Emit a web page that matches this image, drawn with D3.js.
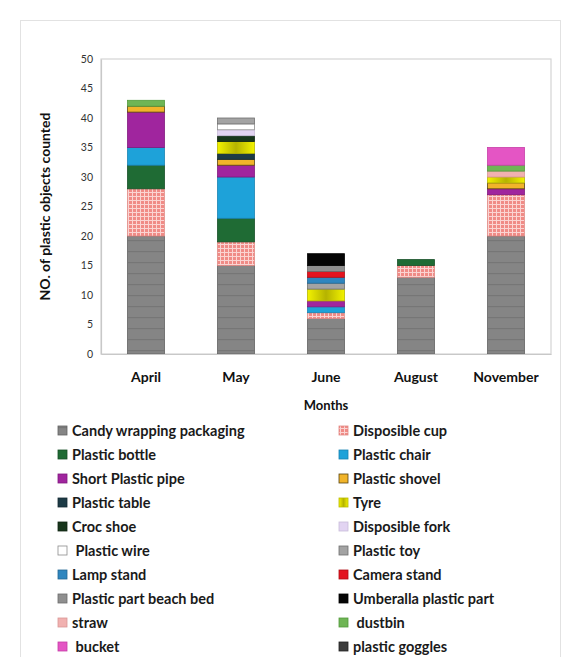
<!DOCTYPE html>
<html>
<head>
<meta charset="utf-8">
<script src="https://cdn.jsdelivr.net/npm/d3@7"></script>
<style>
  html, body { margin: 0; padding: 0; background: #fff; }
  svg { display: block; font-family: Lato, "Open Sans", sans-serif; }
</style>
</head>
<body>
<svg id="chart" width="572" height="657"></svg>
<script>
// Months surveyed
const months = ["April", "May", "June", "August", "November"];

// Object types, in stacking / legend order
const itemTypes = [
  "Candy wrapping packaging", "Disposible cup",
  "Plastic bottle", "Plastic chair",
  "Short Plastic pipe", "Plastic shovel",
  "Plastic table", "Tyre",
  "Croc shoe", "Disposible fork",
  " Plastic wire", "Plastic toy",
  "Lamp stand", "Camera stand",
  "Plastic part beach bed", "Umberalla plastic part",
  "straw", " dustbin",
  " bucket", "plastic goggles"
];

// Counts per object type, one value per month (April, May, June, August, November)
const candyWrapping   = [20, 15, 6, 13, 20];
const disposibleCup   = [8, 4, 1, 2, 7];
const plasticBottle   = [4, 4, 0, 1, 0];
const plasticChair    = [3, 7, 1, 0, 0];
const shortPipe       = [6, 2, 1, 0, 1];
const plasticShovel   = [1, 1, 0, 0, 1];
const plasticTable    = [0, 1, 0, 0, 0];
const tyre            = [0, 2, 2, 0, 1];
const crocShoe        = [0, 1, 0, 0, 0];
const disposibleFork  = [0, 1, 0, 0, 0];
const plasticWire     = [0, 1, 0, 0, 0];
const plasticToy      = [0, 1, 1, 0, 0];
const lampStand       = [0, 0, 1, 0, 0];
const cameraStand     = [0, 0, 1, 0, 0];
const beachBedPart    = [0, 0, 1, 0, 0];
const umbrellaPart    = [0, 0, 2, 0, 0];
const straw           = [0, 0, 0, 0, 1];
const dustbin         = [1, 0, 0, 0, 1];
const bucket          = [0, 0, 0, 0, 3];
const plasticGoggles  = [0, 0, 0, 0, 0];

const seriesValues = [
  candyWrapping, disposibleCup, plasticBottle, plasticChair, shortPipe,
  plasticShovel, plasticTable, tyre, crocShoe, disposibleFork,
  plasticWire, plasticToy, lampStand, cameraStand, beachBedPart,
  umbrellaPart, straw, dustbin, bucket, plasticGoggles
];

// Y axis ticks
const yTicks = [0, 5, 10, 15, 20, 25, 30, 35, 40, 45, 50];

// Fill for each object type (some use patterns defined below)
const fills = [
  "url(#candyPat)", "url(#cupPat)", "#1f6b34", "#1ea2d9", "#a0259e",
  "#f1b42a", "#1d3b46", "url(#tyreGrad)", "#18361c", "#e2d4f2",
  "#ffffff", "#a3a3a3", "#2f86bf", "#e3141f", "#8f8f8f",
  "#050505", "#f1b1b0", "#6fb555", "#e455c4", "#3c3c3c"
];
const strokes = [
  "#616161", "#e08a86", "#174f27", "#1883b2", "#80187e",
  "#5a4510", "#142a33", "#b8b800", "#0f2412", "#c9bcd9",
  "#8c8c8c", "#6f6f6f", "#236894", "#b00d16", "#6c6c6c",
  "#000000", "#d99796", "#529a3b", "#c63ea7", "#222222"
];

// Rows of data for d3.stack
const table = months.map((m, i) => {
  const row = { month: m };
  itemTypes.forEach((t, k) => { row[t] = seriesValues[k][i]; });
  return row;
});

const svg = d3.select("#chart");

// Patterns and gradients
const defs = svg.append("defs");
const candy = defs.append("pattern").attr("id", "candyPat")
  .attr("patternUnits", "userSpaceOnUse").attr("width", 8).attr("height", 11);
candy.append("rect").attr("width", 8).attr("height", 11).attr("fill", "#858585");
candy.append("rect").attr("y", 9).attr("width", 8).attr("height", 1.2).attr("fill", "#767676");

const cup = defs.append("pattern").attr("id", "cupPat")
  .attr("patternUnits", "userSpaceOnUse").attr("width", 4).attr("height", 4);
cup.append("rect").attr("width", 4).attr("height", 4).attr("fill", "#f08b86");
cup.append("rect").attr("width", 4).attr("height", 1).attr("fill", "#fbd4d2");
cup.append("rect").attr("width", 1).attr("height", 4).attr("fill", "#fbd4d2");

const tg = defs.append("linearGradient").attr("id", "tyreGrad")
  .attr("x1", "0%").attr("x2", "100%").attr("y1", "0%").attr("y2", "0%");
tg.append("stop").attr("offset", "0%").attr("stop-color", "#f2f200");
tg.append("stop").attr("offset", "50%").attr("stop-color", "#b5b300");
tg.append("stop").attr("offset", "100%").attr("stop-color", "#f2f200");

const plot = { left: 101, right: 551, top: 59, bottom: 354 };

const x = d3.scaleBand().domain(months).range([plot.left, plot.right]).paddingInner(0.59).paddingOuter(0.295);
const y = d3.scaleLinear().domain([0, 50]).range([plot.bottom, plot.top]);

// Outer chart frame
svg.append("rect").attr("x", 20.5).attr("y", 20.5).attr("width", 540).attr("height", 640)
  .attr("fill", "none").attr("stroke", "#e2e2e2");

// Plot area frame
svg.append("rect").attr("x", plot.left).attr("y", plot.top)
  .attr("width", plot.right - plot.left).attr("height", plot.bottom - plot.top)
  .attr("fill", "none").attr("stroke", "#d4d4d4").attr("stroke-width", 1.2);

// Stacked bars
const stacked = d3.stack().keys(itemTypes)(table);
svg.append("g").selectAll("g").data(stacked).join("g")
  .attr("fill", (d, k) => fills[k])
  .attr("stroke", (d, k) => strokes[k])
  .attr("stroke-width", 0.8)
  .selectAll("rect").data(d => d.filter(s => s[1] > s[0]))
  .join("rect")
  .attr("x", d => x(d.data.month))
  .attr("y", d => y(d[1]))
  .attr("width", x.bandwidth())
  .attr("height", d => y(d[0]) - y(d[1]));

// Y axis
const yAxis = svg.append("g").attr("transform", `translate(${plot.left},0)`)
  .call(d3.axisLeft(y).tickValues(yTicks).tickSize(0).tickPadding(8));
yAxis.select(".domain").attr("stroke", "#c8c8c8").attr("stroke-width", 1.2);
yAxis.selectAll("text").attr("font-size", 10.5).attr("fill", "#333")
  .attr("font-family", "Lato, sans-serif");

// X axis
const xAxis = svg.append("g").attr("transform", `translate(0,${plot.bottom})`)
  .call(d3.axisBottom(x).tickSize(0).tickPadding(18));
xAxis.select(".domain").attr("stroke", "#c8c8c8").attr("stroke-width", 1.2);
xAxis.selectAll("text").attr("font-size", 14).attr("font-weight", "bold").attr("fill", "#111")
  .attr("font-family", "Lato, sans-serif");

// Axis titles
svg.append("text").attr("x", (plot.left + plot.right) / 2).attr("y", 410)
  .attr("text-anchor", "middle").attr("font-size", 13).attr("font-weight", "bold")
  .attr("fill", "#111").text("Months");
svg.append("text").attr("transform", `translate(50,${(plot.top + plot.bottom) / 2}) rotate(-90)`)
  .attr("text-anchor", "middle").attr("font-size", 14).attr("font-weight", "bold")
  .attr("fill", "#111").text("NO. of plastic objects counted");

// Legend, two columns
const legend = svg.append("g");
const colX = [58, 339];
const rowY0 = 431, rowH = 24.0;
itemTypes.forEach((t, k) => {
  const col = k % 2, row = Math.floor(k / 2);
  const gx = colX[col], gy = rowY0 + row * rowH;
  legend.append("rect").attr("x", gx).attr("y", gy - 5).attr("width", 9).attr("height", 9)
    .attr("fill", fills[k]).attr("stroke", strokes[k]).attr("stroke-width", 0.8);
  legend.append("text").attr("x", gx + 14).attr("y", gy + 4.5)
    .attr("font-size", 14.5).attr("font-weight", "bold").attr("fill", "#1a1a1a")
    .style("white-space", "pre").text(t);
});
</script>
</body>
</html>
